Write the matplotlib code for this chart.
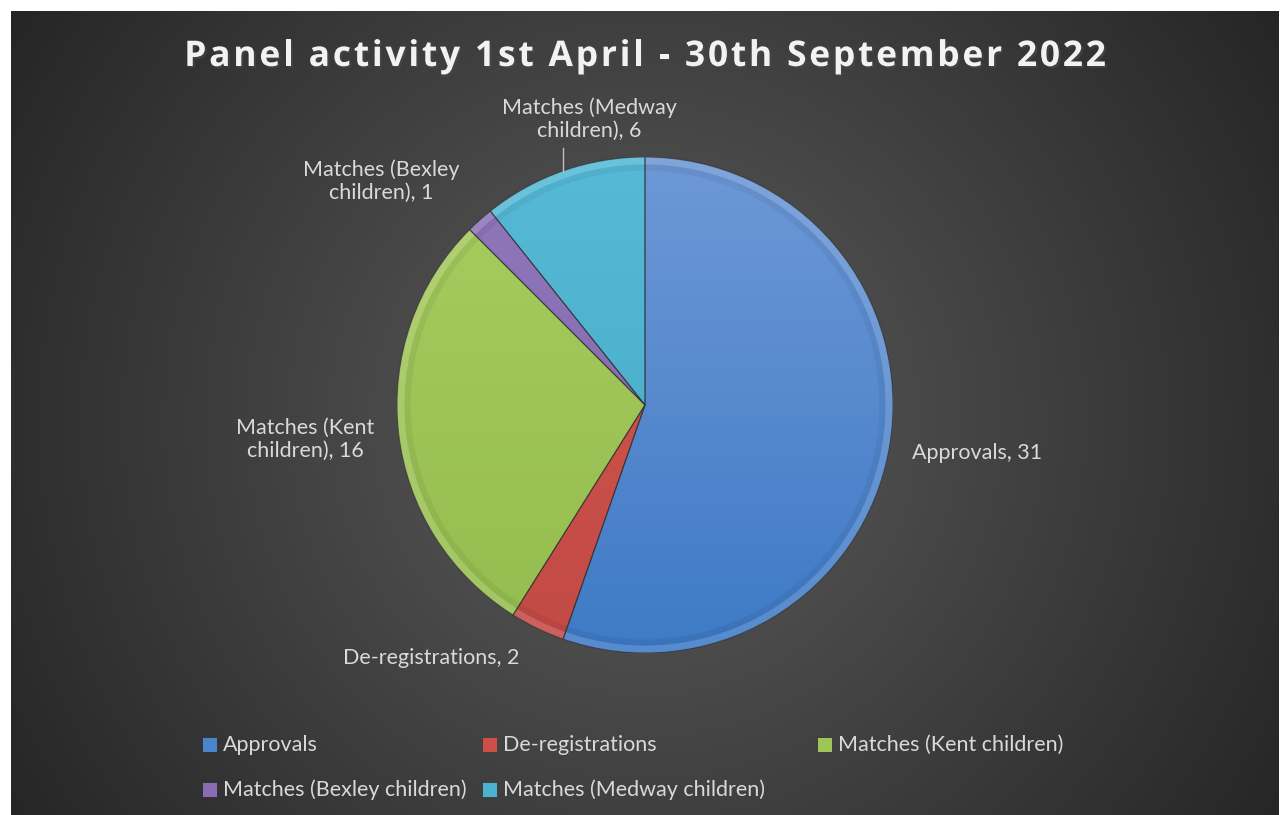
import numpy as np
import matplotlib
matplotlib.use("Agg")
import matplotlib.pyplot as plt
import matplotlib.patheffects as pe
from matplotlib.patches import Wedge, Rectangle

categories = ["Approvals", "De-registrations", "Matches (Kent children)",
              "Matches (Bexley children)", "Matches (Medway children)"]
values = [31, 2, 16, 1, 6]
slice_labels = ["Approvals, 31", "De-registrations, 2", "Matches (Kent\nchildren), 16",
                "Matches (Bexley\nchildren), 1", "Matches (Medway\nchildren), 6"]
title = "Panel activity 1st April - 30th September 2022"

# light (top) / dark (bottom) shade for each slice
top_colors = ["#6e98d6", "#d4574f", "#a8cc60", "#9178bb", "#56bad6"]
bot_colors = ["#3e7ac6", "#c24a45", "#94bc4e", "#7f62a8", "#44a9c6"]
legend_colors = ["#4a85cc", "#cc4f4a", "#9fc557", "#8a6cb4", "#4cb2cf"]

W, H = 1284, 815
fig = plt.figure(figsize=(W / 100, H / 100), dpi=100, facecolor="white")

# dark radial background
bg = fig.add_axes([11 / W, 0, (1279 - 11) / W, (815 - 11) / H])
bg.set_axis_off()
yy, xx = np.mgrid[11:815, 11:1279]
d = np.hypot(xx - 645, yy - 420) / 760.0
d = np.clip(d, 0, 1)
c0, c1 = np.array([0x5c, 0x5c, 0x5c]) / 255, np.array([0x25, 0x25, 0x25]) / 255
grad = c0[None, None, :] * (1 - d[..., None]) + c1[None, None, :] * d[..., None]
bg.imshow(grad, aspect="auto", extent=[11, 1279, 815, 11], interpolation="bilinear")
bg.set_xlim(11, 1279)
bg.set_ylim(815, 11)

def px(x, y):
    return x / W, 1 - y / H

# title, letter-spaced: place each character after the measured prefix
renderer = fig.canvas.get_renderer()
t_kw = dict(fontsize=25.5, fontweight="bold", family="Open Sans", color="#f2f2f2",
            va="center", ha="left",
            path_effects=[pe.SimplePatchShadow(offset=(1.5, -1.5), alpha=0.6),
                          pe.Normal()])
spacing = 2.8

def text_width(s):
    tmp = fig.text(0, 0, s + "|", **t_kw)
    bar = fig.text(0, 0, "|", **t_kw)
    w = tmp.get_window_extent(renderer).width - bar.get_window_extent(renderer).width
    tmp.remove()
    bar.remove()
    return w

total = text_width(title) + spacing * (len(title) - 1)
x_start = 645 - total / 2
for i, ch in enumerate(title):
    if ch == " ":
        continue
    x = x_start + text_width(title[:i]) + spacing * i
    fig.text(*px(x, 57), ch, **t_kw)

# pie
cx, cy, r = 645, 405, 248
ax = fig.add_axes([(cx - r) / W, (H - cy - r) / H, 2 * r / W, 2 * r / H])
wedges, _ = ax.pie(values, startangle=90, counterclock=False, radius=1,
                   wedgeprops=dict(linewidth=0))
ax.set_xlim(-1, 1)
ax.set_ylim(-1, 1)
ax.set_axis_off()

for i, w in enumerate(wedges):
    w.set_facecolor("none")
    t = np.linspace(0, 1, 256)[:, None]
    a = np.array(matplotlib.colors.to_rgb(top_colors[i]))
    b = np.array(matplotlib.colors.to_rgb(bot_colors[i]))
    img = a[None, :] * (1 - t[..., None]) + b[None, :] * t[..., None]
    img = np.repeat(img, 4, axis=1)
    im = ax.imshow(img, extent=[-1, 1, -1, 1], aspect="auto", zorder=1,
                   interpolation="bilinear")
    im.set_clip_path(w)
    # bevel: light rim along the outer arc and a soft darker inner band
    rim = Wedge((0, 0), 1, w.theta1, w.theta2, width=0.03,
                facecolor="white", alpha=0.13, linewidth=0, zorder=2)
    ax.add_patch(rim)
    inner = Wedge((0, 0), 0.97, w.theta1, w.theta2, width=0.025,
                  facecolor="black", alpha=0.05, linewidth=0, zorder=2)
    ax.add_patch(inner)
    edge = Wedge((0, 0), 1, w.theta1, w.theta2, facecolor="none",
                 edgecolor="#2a2a2a", linewidth=0.8, alpha=0.6, zorder=3)
    ax.add_patch(edge)

# data labels
lab_kw = dict(fontsize=15.5, family="Lato", color="#d9d9d9", linespacing=1.2)
fig.text(*px(912, 453), slice_labels[0], ha="left", va="center", **lab_kw)
fig.text(*px(431, 658), slice_labels[1], ha="center", va="center", **lab_kw)
fig.text(*px(305, 439), slice_labels[2], ha="center", va="center", multialignment="center", **lab_kw)
fig.text(*px(381, 181), slice_labels[3], ha="center", va="center", multialignment="center", **lab_kw)
fig.text(*px(589, 119), slice_labels[4], ha="center", va="center", multialignment="center", **lab_kw)

# leader line for the Medway slice
lx = (563 - cx) / r
ax.plot([lx, lx], [np.sqrt(1 - lx ** 2), (cy - 148) / r],
        color="#bfbfbf", linewidth=1, clip_on=False, zorder=4)

# legend
leg_pos = [(203, 745), (483, 745), (818, 745), (203, 790), (483, 790)]
for (lx, ly), name, col in zip(leg_pos, categories, legend_colors):
    x0, y0 = px(lx, ly + 7)
    fig.patches.append(Rectangle((x0, y0), 14 / W, 14 / H, transform=fig.transFigure,
                                 facecolor=col, edgecolor="none"))
    fig.text(*px(lx + 20, ly), name, ha="left", va="center", **lab_kw)

fig.savefig("out.png", dpi=100, facecolor="white")
